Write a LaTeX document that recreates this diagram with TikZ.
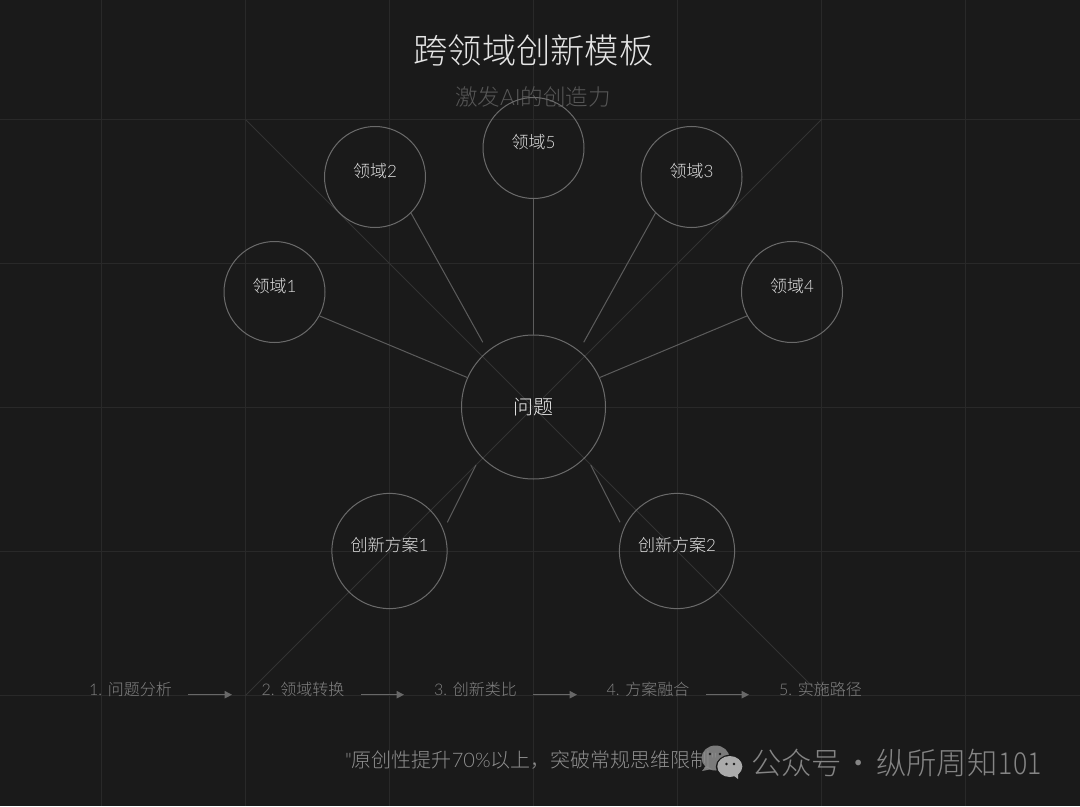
\documentclass[tikz,border=0pt]{standalone}
\usepackage{fontspec}
\setmainfont{Noto Sans CJK SC Light}
\newfontfamily\lat{Lato Light}
\newfontfamily\wmfont{Noto Sans CJK SC}
\usetikzlibrary{arrows.meta}
\definecolor{bgc}{HTML}{1A1A1A}
\definecolor{gridc}{HTML}{292929}
\definecolor{diagc}{HTML}{333333}
\definecolor{circc}{HTML}{6A6A6A}
\definecolor{linkc}{HTML}{5C5C5C}
\definecolor{stepc}{HTML}{828282}
\newcommand{\fs}[1]{\fontsize{\dimexpr#1pt*3/4\relax}{\dimexpr#1pt*3/4\relax}\selectfont}
\tikzset{
  x=0.75pt,y=-0.75pt,
  gridline/.style={draw=gridc,line width=0.75pt},
  diagline/.style={draw=diagc,line width=0.75pt},
  dom/.style={circle,draw=circc,line width=0.75pt,minimum size=75.75pt,inner sep=0pt},
  prob/.style={circle,draw=circc,line width=0.75pt,minimum size=108pt,inner sep=0pt},
  sol/.style={circle,draw=circc,line width=0.75pt,minimum size=86.4pt,inner sep=0pt},
  link/.style={draw=linkc,line width=0.75pt},
  steparrow/.style={draw=stepc!80!black,line width=0.75pt,-{Triangle[length=5.5pt,width=5.5pt]}},
  txt/.style={inner sep=0pt,outer sep=0pt,anchor=center},
  domtxt/.style={txt,text=white!88!black,font=\fs{17}},
  steptxt/.style={txt,text=stepc,font=\fs{16}},
}
\begin{document}
\begin{tikzpicture}
\path[use as bounding box,fill=bgc] (0,0) rectangle (1080,806);
% grid
\foreach \gx in {101.5,245.5,389.5,533.5,677.5,821.5,965.5}
  \draw[gridline] (\gx,0) -- (\gx,806);
\foreach \gy in {119.5,263.5,407.5,551.5,695.5}
  \draw[gridline] (0,\gy) -- (1080,\gy);
\draw[diagline] (245.5,119.5) -- (821.5,695.5);
\draw[diagline] (821.5,119.5) -- (245.5,695.5);
% title
\node[txt,text=white!90!black,font=\fs{34.3}] (title) at (533.5,50) {跨领域创新模板};
\node[txt,text=white!34!black,font=\fs{22.5}] (subtitle) at (533,96.5) {激发{\lat AI}的创造力};
% circles
\node[dom] (d1) at (274.5,292) {};
\node[dom] (d2) at (375,177) {};
\node[dom] (d5) at (533.5,148) {};
\node[dom] (d3) at (691.5,177) {};
\node[dom] (d4) at (792,292) {};
\node[prob] (p) at (533.5,407) {};
\node[sol] (s1) at (389.5,551) {};
\node[sol] (s2) at (677,551) {};
% circle labels
\node[domtxt] (t1) at (274.5,286) {领域{\lat 1}};
\node[domtxt] (t2) at (375,171) {领域{\lat 2}};
\node[domtxt] (t5) at (533.5,142) {领域{\lat 5}};
\node[domtxt] (t3) at (691.5,171) {领域{\lat 3}};
\node[domtxt] (t4) at (792,286) {领域{\lat 4}};
\node[txt,text=white!92!black,font=\fs{20}] (tp) at (533.5,407.5) {问题};
\node[domtxt] (ts1) at (389.5,545) {创新方案{\lat 1}};
\node[domtxt] (ts2) at (677,545) {创新方案{\lat 2}};
% free ends
\coordinate (e2) at (482.8,342.3);
\coordinate (e3) at (583.7,342.3);
\coordinate (b1) at (476,465);
\coordinate (b2) at (447.3,522.3);
\coordinate (b3) at (590.7,465);
\coordinate (b4) at (620,522.3);
% connectors
\draw[link] (d1.-28) -- (p.156);
\draw[link] (d2.-45) -- (e2);
\draw[link] (d5.south) -- (p.north);
\draw[link] (d3.-135) -- (e3);
\draw[link] (d4.208) -- (p.24);
\draw[link] (b1) -- (b2);
\draw[link] (b3) -- (b4);
% steps
\node[steptxt] (st1) at (130.5,689) {{\lat 1. }问题分析};
\node[steptxt] (st2) at (303,689) {{\lat 2. }领域转换};
\node[steptxt] (st3) at (475.5,689) {{\lat 3. }创新类比};
\node[steptxt] (st4) at (648,689) {{\lat 4. }方案融合};
\node[steptxt] (st5) at (820.5,689) {{\lat 5. }实施路径};
\coordinate (a1s) at (188,694.7); \coordinate (a1e) at (232,694.7);
\coordinate (a2s) at (361,694.7); \coordinate (a2e) at (404,694.7);
\coordinate (a3s) at (533,694.7); \coordinate (a3e) at (577,694.7);
\coordinate (a4s) at (706,694.7); \coordinate (a4e) at (749,694.7);
\draw[steparrow] (a1s) -- (a1e);
\draw[steparrow] (a2s) -- (a2e);
\draw[steparrow] (a3s) -- (a3e);
\draw[steparrow] (a4s) -- (a4e);
% quote
\node[txt,text=white!56!black,font=\fs{20},anchor=west] (quote) at (345,760) {{\lat "}原创性提升{\lat 70\%}以上，突破常规思维限制{\lat "}};
% watermark
\begin{scope}[fill opacity=0.85]
\fill[white!55!black] (715.5,758) ellipse [x radius=14,y radius=12.5];
\fill[white!55!black] (706,766) -- (702,771) -- (712,769) -- cycle;
\end{scope}
\fill[bgc] (710,754) circle [radius=1.3];
\fill[bgc] (720,754) circle [radius=1.3];
\fill[bgc] (729.8,766.8) ellipse [x radius=14,y radius=12];
\fill[white!67!black] (729.8,766.5) ellipse [x radius=12.5,y radius=10.5];
\fill[white!67!black] (733,775) -- (738,779) -- (738,773) -- cycle;
\fill[bgc] (726.5,764) circle [radius=1.4];
\fill[bgc] (734,764) circle [radius=1.4];
\node[txt,text=white!52!black,font=\fs{30.3},anchor=west] (wm) at (751,763) {公众号\hspace{1.5pt}·\hspace{1.5pt}纵所周知\hspace{1pt}\scalebox{0.88}[1]{101}};
\end{tikzpicture}
\end{document}
